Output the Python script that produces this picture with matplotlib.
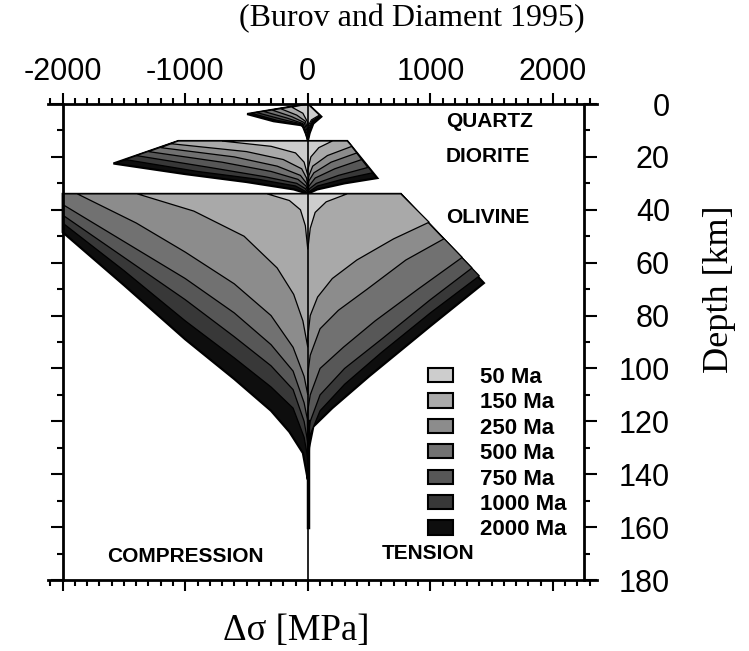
import matplotlib.pyplot as plt
from matplotlib.patches import Polygon, Patch
from matplotlib.ticker import MultipleLocator, FixedLocator

# Ages (Ma) and the grey shade used for each
ages = [50, 150, 250, 500, 750, 1000, 2000]
shades = ['#cdcdcd', '#a9a9a9', '#8c8c8c', '#717171', '#575757', '#383838', '#0e0e0e']

# Envelope outlines: (stress [MPa], depth [km])
# tension side goes down from the layer top, compression side likewise
quartz_tens = {
    50: [(0, 0), (95, 4.2), (30, 6.0), (0, 8.5)],
    150: [(0, 0), (100, 4.4), (35, 6.4), (5, 9), (0, 11)],
    250: [(0, 0), (100, 4.4), (38, 6.6), (8, 9.5), (0, 12)],
    500: [(0, 0), (105, 4.6), (40, 6.8), (10, 10), (0, 13)],
    750: [(0, 0), (105, 4.6), (40, 7.0), (12, 10.5), (0, 13.5)],
    1000: [(0, 0), (110, 4.8), (42, 7.2), (14, 11), (0, 14)],
    2000: [(0, 0), (110, 4.8), (45, 7.4), (15, 11), (0, 14)],
}
quartz_comp = {
    50: [(0, 0), (-130, 1.2), (-40, 3.5), (0, 7)],
    150: [(0, 0), (-220, 1.8), (-90, 4.2), (-20, 6.5), (0, 10)],
    250: [(0, 0), (-290, 2.3), (-130, 4.8), (-30, 7), (0, 11)],
    500: [(0, 0), (-360, 2.8), (-170, 5.3), (-40, 7.4), (0, 12)],
    750: [(0, 0), (-420, 3.2), (-210, 5.8), (-45, 7.6), (0, 13)],
    1000: [(0, 0), (-460, 3.5), (-250, 6.2), (-50, 7.8), (0, 13.5)],
    2000: [(0, 0), (-495, 3.8), (-280, 6.5), (-55, 8), (-22, 9), (0, 14)],
}

diorite_tens = {
    50: [(200, 14), (90, 16.5), (25, 20), (0, 25)],
    150: [(322, 14), (360, 16), (160, 19.5), (40, 23.5), (10, 27), (0, 30)],
    250: [(322, 14), (400, 18.5), (190, 22), (50, 26), (10, 29), (0, 32)],
    500: [(322, 14), (440, 21), (220, 24.5), (60, 28), (10, 31), (0, 33)],
    750: [(322, 14), (490, 24), (250, 27), (70, 30), (15, 32), (0, 33.5)],
    1000: [(322, 14), (530, 26), (280, 28.5), (80, 31), (15, 33), (0, 34)],
    2000: [(322, 14), (567, 28), (300, 30), (77, 32.3), (20, 33.5), (0, 34)],
}
diorite_comp = {
    50: [(-700, 14), (-300, 16), (-100, 18.5), (-30, 22), (0, 27)],
    150: [(-1056, 14), (-1120, 15), (-500, 18), (-200, 21), (-50, 24.5), (-10, 28), (0, 31)],
    250: [(-1056, 14), (-1200, 16.5), (-600, 20), (-250, 23.5), (-60, 27), (-10, 30), (0, 32)],
    500: [(-1056, 14), (-1300, 18), (-700, 22), (-300, 25.5), (-80, 28.5), (-15, 31), (0, 33)],
    750: [(-1056, 14), (-1400, 19.5), (-800, 24), (-350, 27.5), (-90, 30), (-20, 32), (0, 33.5)],
    1000: [(-1056, 14), (-1490, 21), (-900, 25.5), (-400, 28.5), (-100, 31), (-20, 33), (0, 34)],
    2000: [(-1056, 14), (-1586, 22.5), (-1000, 26.5), (-500, 29.5), (-115, 32.3), (-30, 33.5), (0, 34)],
}

olivine_tens = {
    50: [(320, 34), (150, 37), (60, 41), (20, 47), (0, 55)],
    150: [(759, 34), (990, 44.7), (700, 51), (400, 59), (200, 66), (80, 73), (20, 80), (0, 88)],
    250: [(759, 34), (1110, 51), (800, 59), (485, 70), (250, 78), (100, 85), (20, 95), (0, 102)],
    500: [(759, 34), (1260, 58), (900, 70), (550, 82), (290, 92), (100, 100), (20, 110), (0, 116)],
    750: [(759, 34), (1340, 62), (1000, 74), (600, 89), (300, 100), (100, 110), (20, 120), (0, 126)],
    1000: [(759, 34), (1400, 65), (1000, 79), (600, 94), (300, 106), (100, 116), (20, 125), (0, 132)],
    2000: [(759, 34), (1437, 67.7), (1000, 84), (500, 103), (200, 115), (45, 122), (10, 130), (0, 140)],
}
olivine_comp = {
    50: [(-330, 34), (-150, 36.5), (-60, 40), (-20, 46), (0, 55)],
    150: [(-1390, 34), (-930, 40.5), (-520, 50), (-250, 62), (-115, 72), (-40, 82), (0, 92)],
    250: [(-1880, 34), (-1400, 45), (-1000, 56), (-600, 68), (-300, 80), (-120, 92), (-30, 103), (0, 110)],
    500: [(-2000, 34), (-2000, 38), (-1500, 52), (-1000, 66), (-600, 79), (-300, 91), (-120, 101), (-30, 113), (0, 120)],
    750: [(-2000, 34), (-2000, 42), (-1500, 58), (-1000, 74), (-600, 88), (-300, 99), (-120, 108), (-30, 120), (0, 128)],
    1000: [(-2000, 34), (-2000, 45), (-1500, 63), (-1000, 82), (-600, 96), (-300, 107), (-120, 115), (-30, 126), (0, 134)],
    2000: [(-2000, 34), (-2000, 48.5), (-1500, 68.5), (-1000, 89), (-600, 104), (-300, 116), (-150, 124), (-40, 132), (0, 142)],
}

layers = [(quartz_tens, quartz_comp), (diorite_tens, diorite_comp), (olivine_tens, olivine_comp)]

fig = plt.figure(figsize=(7.49, 6.51), dpi=100)
ax = fig.add_axes([48 / 749, 1 - 580 / 651, 549 / 749, 476 / 651])

# oldest (widest) envelope first, younger ones on top
for age, shade in reversed(list(zip(ages, shades))):
    for tens, comp in layers:
        t = tens[age]
        c = comp[age]
        pts = [(0, t[0][1])] + t + [(0, c[-1][1])] + c[::-1]
        lw = 1.6 if age == 2000 else 0.9
        ax.add_patch(Polygon(pts, closed=True, facecolor=shade, edgecolor='black', lw=lw, zorder=2))

ax.plot([0, 0], [0, 180], color='black', lw=1.2, zorder=3)
ax.plot([0, 0], [120, 160], color='black', lw=2.5, zorder=3)

ax.set_xlim(-2120, 2360)
ax.set_ylim(180, 0)

# frame: left/right lines sit inside the x-range, top/bottom run past them
for s in ['top', 'bottom', 'left', 'right']:
    ax.spines[s].set_linewidth(2)
ax.spines['left'].set_position(('data', -2000))
ax.spines['right'].set_position(('data', 2253))

ax.xaxis.set_major_locator(FixedLocator([-2000, -1000, 0, 1000, 2000]))
ax.xaxis.set_minor_locator(FixedLocator(list(range(-2100, 2400, 100))))
ax.tick_params(axis='x', which='both', top=True, bottom=True, labeltop=True, labelbottom=False,
               direction='out', width=1.5)
ax.tick_params(axis='x', which='major', length=8, pad=4)
ax.tick_params(axis='x', which='minor', length=4)
ax.set_xticklabels(['-2000', '-1000', '0', '1000', '2000'], fontsize=22, family='Liberation Sans')

ax.yaxis.set_major_locator(MultipleLocator(20))
ax.yaxis.set_minor_locator(MultipleLocator(10))
ax.tick_params(axis='y', which='both', left=True, right=True, labelleft=False, labelright=True,
               direction='out', width=1.5)
ax.tick_params(axis='y', which='major', length=9, pad=53)
ax.tick_params(axis='y', which='minor', length=4)
for lab in ax.get_yticklabels():
    lab.set_fontsize(22)
    lab.set_family('Liberation Sans')
    lab.set_horizontalalignment('right')

bold = dict(family='Liberation Sans', weight='bold', fontsize=15)
ax.text(1480, 6.5, 'QUARTZ', ha='center', va='center', **bold)
ax.text(1470, 20, 'DIORITE', ha='center', va='center', **bold)
ax.text(1470, 43, 'OLIVINE', ha='center', va='center', **bold)
ax.text(-1000, 171, 'COMPRESSION', ha='center', va='center', **bold)
ax.text(980, 170, 'TENSION', ha='center', va='center', **bold)

handles = [Patch(facecolor=s, edgecolor='black', lw=1.5) for s in shades]
ax.legend(handles, [f'{a} Ma' for a in ages], loc='upper left', bbox_to_anchor=(0.692, 0.448),
          frameon=False, prop=dict(family='Liberation Sans', weight='bold', size=16),
          handlelength=1.15, handleheight=0.62, handletextpad=1.2, labelspacing=0.2,
          borderaxespad=0, borderpad=0)

serif = dict(family='Liberation Serif')
fig.text(0.55, 0.972, '(Burov and Diament 1995)', ha='center', va='center', fontsize=23, **serif)
fig.text(0.96, 0.555, 'Depth [km]', ha='center', va='center', rotation=90, fontsize=26, **serif)
fig.text(0.395, 0.031, 'Δσ [MPa]', ha='center', va='center', fontsize=26.5, **serif)

fig.savefig('out.png', dpi=100)
